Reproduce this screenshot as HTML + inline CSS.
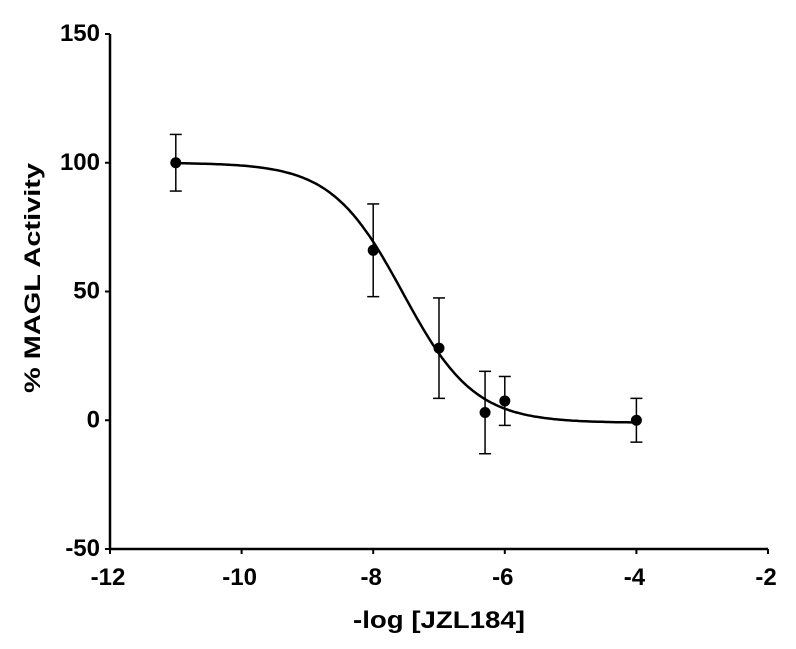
<!DOCTYPE html>
<html><head><meta charset="utf-8"><style>
body{margin:0;background:#fff;}
svg text{font-family:"Liberation Sans",Arial,sans-serif;font-weight:bold;fill:#000;}
</style></head><body>
<svg id="chart" width="796" height="644" viewBox="0 0 796 644" xmlns="http://www.w3.org/2000/svg"></svg>
<script>
const xTicks=[-12,-10,-8,-6,-4,-2];
const yTicks=[-50,0,50,100,150];
const xVals=[-11,-8,-7,-6.3,-6,-4];
const yVals=[100,66,28,3,7.5,0];
const errVals=[11,18,19.5,16,9.5,8.5];
const fitParams=[100,-1,-7.55,0.8]; // top, bottom, logIC50, hill
const NS='http://www.w3.org/2000/svg';
const svg=document.getElementById('chart');
const X0=110,X1=768,Y0=549,Y1=34;
const sx=v=>X0+(v-(-12))/10*(X1-X0);
const sy=v=>Y0-(v-(-50))/200*(Y0-Y1);
function el(t,a,p){const e=document.createElementNS(NS,t);for(const k in a)e.setAttribute(k,a[k]);(p||svg).appendChild(e);return e;}
const yAxis=el('line',{x1:X0,y1:Y1,x2:X0,y2:Y0+1,stroke:'#000','stroke-width':2.5});


const xAxis=el('line',{x1:X0-1,y1:Y0,x2:X1,y2:Y0,stroke:'#000','stroke-width':2.5});


xTicks.forEach(t=>{
 const l=el('line',{x1:sx(t),y1:Y0,x2:sx(t),y2:Y0+5,stroke:'#000','stroke-width':2});
 
 
 const tx=el('text',{x:sx(t)-2,y:Y0+36,'text-anchor':'middle','font-size':24});
 tx.textContent=t;
 
 
});
yTicks.forEach(t=>{
 const l=el('line',{x1:X0-5,y1:sy(t),x2:X0,y2:sy(t),stroke:'#000','stroke-width':2});
 
 
 const tx=el('text',{x:X0-10,y:sy(t)+7,'text-anchor':'end','font-size':24});
 tx.textContent=t;
 
 
});
const xt=el('text',{x:439,y:628,'text-anchor':'middle','font-size':24,textLength:172,lengthAdjust:'spacingAndGlyphs'});
xt.textContent='-log [JZL184]';


const yt=el('text',{x:40,y:278,'text-anchor':'middle','font-size':22,textLength:230,lengthAdjust:'spacingAndGlyphs',transform:'rotate(-90 40 278)'});
yt.textContent='% MAGL Activity';


const [fitTop,fitBot,fitIC,fitH]=fitParams;
let d='';
for(let i=0;i<=200;i++){const x=xVals[0]+(xVals[xVals.length-1]-xVals[0])*i/200;
 const y=fitBot+(fitTop-fitBot)/(1+Math.pow(10,(x-fitIC)*fitH));
 d+=(i?'L':'M')+sx(x).toFixed(1)+' '+sy(y).toFixed(1);}
const c=el('path',{d:d,fill:'none',stroke:'#000','stroke-width':2.5});


xVals.forEach((x,i)=>{
 const px=sx(x),yh=sy(yVals[i]+errVals[i]),yl=sy(yVals[i]-errVals[i]);
 const g=el('g',{});
 
 
 el('line',{x1:px,y1:yh,x2:px,y2:yl,stroke:'#000','stroke-width':1.5},g);
 el('line',{x1:px-6,y1:yh,x2:px+6,y2:yh,stroke:'#000','stroke-width':1.5},g);
 el('line',{x1:px-6,y1:yl,x2:px+6,y2:yl,stroke:'#000','stroke-width':1.5},g);
 el('circle',{cx:px,cy:sy(yVals[i]),r:5.5,fill:'#000'},g);
});
</script>
</body></html>
